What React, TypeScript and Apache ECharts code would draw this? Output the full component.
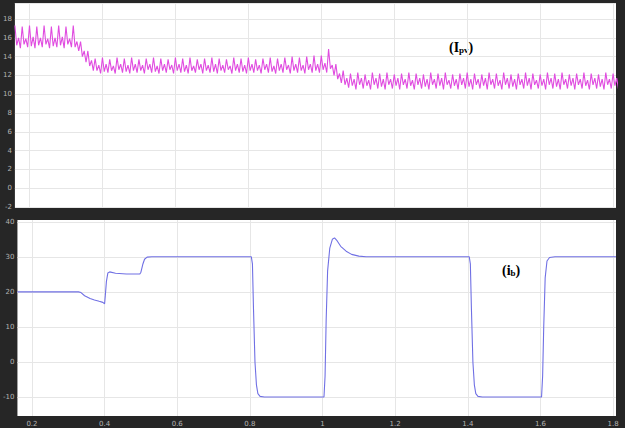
import React, { useEffect, useRef } from "react";
import * as echarts from "echarts";

const X_MIN = 0.16;
const X_MAX = 1.808;
const xTickValues = [0.2, 0.4, 0.6, 0.8, 1, 1.2, 1.4, 1.6, 1.8];
const ibTickValues = [-10, 0, 10, 20, 30, 40];

// Ipv sampled every 5 ms, one group of 4 samples per 20 ms cycle: [peak, dip, bump, trough]
const IPV_T0 = 0.16;
const IPV_DT = 0.005;
const ipvSegA: number[][] = [
  [17.3, 15.2, 16.0, 14.9], [17.2, 15.3, 15.9, 15.0], [17.3, 15.1, 16.1, 14.9],
  [17.2, 15.2, 16.0, 15.0], [17.3, 15.3, 15.9, 14.9], [17.2, 15.1, 16.0, 15.0],
  [17.3, 15.2, 16.1, 14.9], [17.2, 15.3, 15.9, 15.0], [17.3, 15.0, 15.6, 14.6],
];
const ipvDrop1: number[][] = [
  [15.6, 14.0, 14.6, 13.4], [14.6, 13.0, 13.6, 12.5],
];
const ipvSegB: number[][] = [
  [13.8, 12.5, 13.1, 12.2], [13.9, 12.4, 13.2, 12.3], [13.7, 12.5, 13.0, 12.2], [13.9, 12.6, 13.2, 12.3],
  [13.8, 12.4, 13.1, 12.2], [13.9, 12.5, 13.2, 12.3], [13.7, 12.5, 13.1, 12.2], [13.8, 12.6, 13.2, 12.3],
  [13.9, 12.4, 13.0, 12.2], [13.8, 12.5, 13.2, 12.3], [13.7, 12.6, 13.1, 12.2], [13.9, 12.5, 13.2, 12.3],
  [13.8, 12.4, 13.1, 12.2], [13.9, 12.5, 13.0, 12.3], [13.7, 12.6, 13.2, 12.2], [13.8, 12.5, 13.1, 12.3],
  [13.9, 12.4, 13.2, 12.2], [13.8, 12.5, 13.1, 12.3], [13.7, 12.6, 13.0, 12.2], [13.9, 12.5, 13.2, 12.3],
  [13.8, 12.4, 13.1, 12.2], [13.9, 12.5, 13.2, 12.3], [13.7, 12.5, 13.1, 12.2], [13.8, 12.6, 13.2, 12.3],
  [13.9, 12.4, 13.0, 12.2], [13.8, 12.5, 13.2, 12.3], [13.9, 12.6, 13.1, 12.2], [14.0, 12.5, 13.2, 12.3],
  [13.9, 12.5, 13.1, 12.2], [14.0, 12.6, 13.2, 12.3], [14.1, 12.5, 13.2, 12.3], [14.1, 12.6, 13.3, 12.3],
];
const ipvDrop2: number[][] = [
  [14.8, 12.7, 13.1, 12.0], [13.2, 11.6, 12.2, 11.2], [12.5, 11.0, 11.7, 10.7],
];
const ipvSegC: number[][] = [
  [12.2, 10.9, 11.6, 10.5], [12.3, 11.0, 11.7, 10.6], [12.1, 10.9, 11.5, 10.5], [12.3, 11.0, 11.7, 10.6],
  [12.2, 10.8, 11.6, 10.5], [12.3, 11.0, 11.6, 10.6], [12.1, 10.9, 11.7, 10.5], [12.2, 11.0, 11.6, 10.6],
  [12.3, 10.9, 11.5, 10.5], [12.2, 11.0, 11.7, 10.6], [12.1, 10.8, 11.6, 10.5], [12.3, 11.0, 11.6, 10.6],
  [12.2, 10.9, 11.7, 10.5], [12.3, 11.0, 11.5, 10.6], [12.1, 10.9, 11.6, 10.5], [12.2, 11.0, 11.7, 10.6],
  [12.3, 10.8, 11.6, 10.5], [12.2, 11.0, 11.6, 10.6], [12.1, 10.9, 11.7, 10.5], [12.3, 11.0, 11.6, 10.6],
  [12.2, 10.9, 11.5, 10.5], [12.3, 11.0, 11.7, 10.6], [12.1, 10.8, 11.6, 10.5], [12.2, 11.0, 11.6, 10.6],
  [12.3, 10.9, 11.7, 10.5], [12.2, 11.0, 11.5, 10.6], [12.1, 10.9, 11.6, 10.5], [12.3, 11.0, 11.7, 10.6],
  [12.2, 10.8, 11.6, 10.5], [12.3, 11.0, 11.6, 10.6], [12.1, 10.9, 11.7, 10.5], [12.2, 11.0, 11.6, 10.6],
  [12.3, 10.9, 11.5, 10.5], [12.2, 11.0, 11.7, 10.6], [12.1, 10.8, 11.6, 10.5], [12.3, 11.0, 11.6, 10.6],
  [12.2, 10.9, 11.7, 10.5],
];

// ib: time / value pairs
const ibTimes = [
  0.16, 0.328, 0.335, 0.345, 0.36, 0.372, 0.385, 0.395, 0.4, 0.402, 0.405, 0.409, 0.414, 0.43, 0.46, 0.497,
  0.5, 0.505, 0.51, 0.517, 0.53, 0.804, 0.807, 0.81, 0.814, 0.818, 0.822, 0.828, 0.84, 1.004, 1.007, 1.01,
  1.014, 1.02, 1.027, 1.033, 1.04, 1.05, 1.065, 1.08, 1.1, 1.12, 1.404, 1.407, 1.41, 1.414, 1.418, 1.422,
  1.428, 1.44, 1.603, 1.606, 1.609, 1.613, 1.618, 1.625, 1.64, 1.808,
];
const ibValues = [
  20, 20, 19.8, 18.9, 18.1, 17.7, 17.3, 17.0, 16.6, 19, 23, 25.4, 25.7, 25.3, 25.1, 25.1,
  25.6, 27.8, 29.3, 29.9, 30, 30, 28, 15, 0, -6.5, -9, -9.8, -10, -10, -4, 12,
  26, 32.5, 35, 35.4, 34.6, 33.0, 31.6, 30.7, 30.2, 30, 30, 28, 15, 0, -6.5, -9,
  -9.8, -10, -10, -4, 10, 24, 28.8, 29.8, 30, 30,
];

function ipvData(): number[][] {
  const all = [...ipvSegA, ...ipvDrop1, ...ipvSegB, ...ipvDrop2, ...ipvSegC].flat();
  return all.map((v, i) => [IPV_T0 + i * IPV_DT, v]);
}

export default function App() {
  const ref = useRef<HTMLDivElement>(null);
  useEffect(() => {
    if (!ref.current) return;
    const chart = echarts.init(ref.current, null, { renderer: "svg" });
    const labelStyle = { fontSize: 7, color: "#b4b4b4", fontFamily: "DejaVu Sans" };
    const splitLine = { show: true, lineStyle: { color: "#e6e6e6", width: 1 } };
    const xAxis = (gi: number) => ({
      type: "value",
      gridIndex: gi,
      min: X_MIN,
      max: X_MAX,
      axisLine: { show: false },
      axisTick: { show: false, customValues: xTickValues },
      axisLabel: {
        show: gi === 1,
        customValues: xTickValues,
        margin: 4,
        ...labelStyle,
        formatter: (v: number) => String(v),
      },
      splitLine,
    });
    const rich = {
      a: { fontFamily: "Liberation Serif", fontWeight: "bold", fontSize: 14, fill: "#000" },
      b: { fontFamily: "Liberation Serif", fontWeight: "bold", fontSize: 9, fill: "#000", verticalAlign: "bottom" },
    };
    chart.setOption({
      animation: false,
      backgroundColor: "#262626",
      grid: [
        { left: 12, right: 9, top: 3, height: 204, show: true, backgroundColor: "#ffffff", borderWidth: 0 },
        { left: 12, right: 9, top: 220, height: 196, show: true, backgroundColor: "#ffffff", borderWidth: 0 },
      ],
      xAxis: [xAxis(0), xAxis(1)],
      yAxis: [
        {
          type: "value",
          gridIndex: 0,
          min: -2,
          max: 19.7,
          interval: 2,
          axisLine: { show: false },
          axisTick: { show: false },
          axisLabel: { margin: 3, showMaxLabel: false, ...labelStyle },
          splitLine,
        },
        {
          type: "value",
          gridIndex: 1,
          min: -15.4,
          max: 40.5,
          axisLine: { show: false },
          axisTick: { show: false, customValues: ibTickValues },
          axisLabel: { margin: 3, customValues: ibTickValues, ...labelStyle },
          splitLine,
        },
      ],
      series: [
        {
          type: "line",
          xAxisIndex: 0,
          yAxisIndex: 0,
          data: ipvData(),
          showSymbol: false,
          lineStyle: { color: "#e04ce0", width: 1.1 },
          clip: true,
        },
        {
          type: "line",
          xAxisIndex: 1,
          yAxisIndex: 1,
          data: ibTimes.map((t, i) => [t, ibValues[i]]),
          showSymbol: false,
          lineStyle: { color: "#7070e4", width: 1.1 },
          clip: true,
        },
      ],
      graphic: [
        { type: "text", left: 449, top: 40, style: { text: "{a|(I}{b|pv}{a|)}", rich } },
        { type: "text", left: 502, top: 263, style: { text: "{a|(i}{b|b}{a|)}", rich } },
      ],
    });
    return () => chart.dispose();
  }, []);
  return <div ref={ref} style={{ position: "fixed", left: 0, top: 0, width: 625, height: 428 }} />;
}
